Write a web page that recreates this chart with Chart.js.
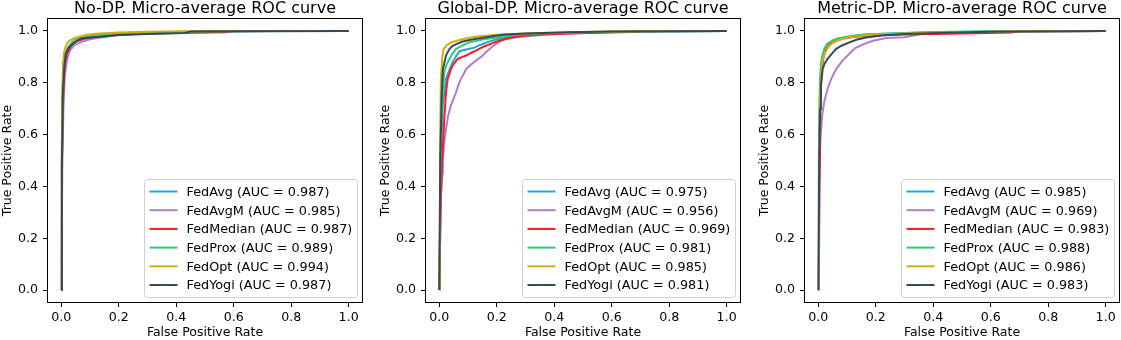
<!DOCTYPE html>
<html>
<head>
<meta charset="utf-8">
<script src="https://cdn.jsdelivr.net/npm/chart.js@4/dist/chart.umd.min.js"></script>
<style>
  body { margin: 0; background: #fff; overflow: hidden; }
  #wrap { position: relative; width: 1121px; height: 340px; }
  .panel { position: absolute; top: 0; height: 340px; }
</style>
</head>
<body>
<div id="wrap">
  <div class="panel" style="left:0px"><canvas id="rocNoDP" width="378" height="340"></canvas></div>
  <div class="panel" style="left:378px"><canvas id="rocGlobalDP" width="379" height="340"></canvas></div>
  <div class="panel" style="left:757px"><canvas id="rocMetricDP" width="364" height="340"></canvas></div>
</div>
<script>
// modelos e cores
const modelos = ['FedAvg', 'FedAvgM', 'FedMedian', 'FedProx', 'FedOpt', 'FedYogi']
const cores = ['#1aa7e6', '#b07ccf', '#ff1a1a', '#2ecc71', '#d4ac0d', '#34495e']
const titulos = ['No-DP. Micro-average ROC curve', 'Global-DP. Micro-average ROC curve', 'Metric-DP. Micro-average ROC curve']
const ticksValores = [0, 0.2, 0.4, 0.6, 0.8, 1.0]

// AUC por painel
const aucNoDP = [0.987, 0.985, 0.987, 0.989, 0.994, 0.987]
const aucGlobalDP = [0.975, 0.956, 0.969, 0.981, 0.985, 0.981]
const aucMetricDP = [0.985, 0.969, 0.983, 0.988, 0.986, 0.983]

// curvas ROC [fpr, tpr] - No-DP
const noDpFedAvg = [[0,0],[0.002,0.5],[0.005,0.78],[0.01,0.88],[0.02,0.925],[0.035,0.948],[0.055,0.962],[0.08,0.972],[0.12,0.98],[0.18,0.987],[0.28,0.992],[0.4,0.995],[0.55,0.998],[0.7,1],[1,1]]
const noDpFedAvgM = [[0,0],[0.003,0.45],[0.007,0.7],[0.012,0.83],[0.02,0.89],[0.03,0.925],[0.045,0.945],[0.07,0.958],[0.1,0.968],[0.14,0.976],[0.2,0.984],[0.3,0.99],[0.45,0.994],[0.6,0.998],[0.75,1],[1,1]]
const noDpFedMedian = [[0,0],[0.002,0.5],[0.006,0.75],[0.012,0.87],[0.02,0.915],[0.035,0.945],[0.05,0.96],[0.08,0.97],[0.12,0.978],[0.18,0.985],[0.3,0.99],[0.45,0.993],[0.57,0.995],[0.6,1],[1,1]]
const noDpFedProx = [[0,0],[0.002,0.55],[0.005,0.8],[0.01,0.89],[0.02,0.93],[0.035,0.955],[0.05,0.968],[0.08,0.976],[0.12,0.983],[0.18,0.99],[0.3,0.994],[0.45,0.997],[0.6,0.999],[1,1]]
const noDpFedOpt = [[0,0],[0.001,0.45],[0.003,0.75],[0.006,0.88],[0.01,0.92],[0.015,0.94],[0.022,0.957],[0.03,0.964],[0.045,0.972],[0.065,0.979],[0.09,0.985],[0.13,0.99],[0.2,0.994],[0.3,0.997],[0.42,0.999],[0.6,1],[1,1]]
const noDpFedYogi = [[0,0],[0.002,0.5],[0.005,0.75],[0.01,0.86],[0.015,0.91],[0.025,0.935],[0.04,0.95],[0.06,0.965],[0.07,0.972],[0.1,0.975],[0.14,0.978],[0.2,0.984],[0.3,0.988],[0.43,0.992],[0.45,0.998],[0.6,0.999],[1,1]]

// Global-DP
const globalFedAvg = [[0,0],[0.005,0.5],[0.012,0.72],[0.023,0.815],[0.035,0.85],[0.046,0.879],[0.06,0.905],[0.07,0.922],[0.1,0.93],[0.12,0.935],[0.14,0.945],[0.17,0.958],[0.2,0.968],[0.24,0.976],[0.3,0.985],[0.45,0.992],[0.65,0.997],[1,1]]
const globalFedAvgM = [[0,0],[0.004,0.3],[0.006,0.39],[0.01,0.45],[0.012,0.5],[0.018,0.58],[0.023,0.62],[0.03,0.67],[0.04,0.712],[0.05,0.74],[0.058,0.763],[0.066,0.79],[0.075,0.815],[0.085,0.835],[0.093,0.853],[0.11,0.87],[0.127,0.885],[0.145,0.9],[0.162,0.918],[0.18,0.935],[0.197,0.95],[0.215,0.962],[0.23,0.969],[0.27,0.976],[0.3,0.98],[0.38,0.986],[0.45,0.99],[0.6,0.996],[0.8,0.999],[1,1]]
const globalFedMedian = [[0,0],[0.004,0.3],[0.01,0.5],[0.017,0.66],[0.023,0.76],[0.029,0.815],[0.038,0.845],[0.046,0.866],[0.055,0.88],[0.064,0.892],[0.08,0.9],[0.093,0.905],[0.11,0.915],[0.127,0.924],[0.145,0.935],[0.162,0.943],[0.185,0.953],[0.208,0.962],[0.24,0.972],[0.278,0.98],[0.35,0.986],[0.45,0.99],[0.55,0.993],[0.67,0.996],[0.7,1],[1,1]]
const globalFedProx = [[0,0],[0.004,0.5],[0.01,0.75],[0.017,0.84],[0.025,0.87],[0.035,0.892],[0.045,0.912],[0.058,0.93],[0.08,0.944],[0.104,0.956],[0.15,0.967],[0.197,0.975],[0.26,0.984],[0.35,0.99],[0.5,0.995],[0.7,0.998],[1,1]]
const globalFedOpt = [[0,0],[0.002,0.5],[0.005,0.8],[0.01,0.9],[0.015,0.93],[0.025,0.945],[0.04,0.955],[0.06,0.962],[0.08,0.968],[0.11,0.975],[0.14,0.98],[0.2,0.985],[0.3,0.99],[0.45,0.995],[0.6,0.998],[0.8,1],[1,1]]
const globalFedYogi = [[0,0],[0.003,0.5],[0.008,0.75],[0.012,0.85],[0.023,0.905],[0.035,0.93],[0.046,0.943],[0.065,0.952],[0.081,0.959],[0.11,0.966],[0.14,0.972],[0.18,0.979],[0.22,0.985],[0.3,0.99],[0.45,0.995],[0.6,0.998],[1,1]]

// Metric-DP
const metricFedAvg = [[0,0],[0.002,0.5],[0.005,0.75],[0.009,0.86],[0.015,0.9],[0.021,0.925],[0.03,0.945],[0.05,0.962],[0.07,0.97],[0.097,0.976],[0.13,0.982],[0.166,0.986],[0.25,0.99],[0.4,0.995],[0.6,0.998],[1,1]]
const metricFedAvgM = [[0,0],[0.002,0.35],[0.004,0.5],[0.008,0.6],[0.014,0.68],[0.021,0.73],[0.032,0.776],[0.045,0.815],[0.062,0.853],[0.08,0.88],[0.097,0.9],[0.115,0.92],[0.13,0.935],[0.16,0.95],[0.19,0.962],[0.237,0.973],[0.3,0.976],[0.36,0.988],[0.45,0.993],[0.6,0.997],[0.8,0.999],[1,1]]
const metricFedMedian = [[0,0],[0.002,0.1],[0.004,0.4],[0.007,0.7],[0.011,0.84],[0.018,0.9],[0.025,0.925],[0.04,0.948],[0.06,0.962],[0.09,0.972],[0.13,0.978],[0.2,0.983],[0.3,0.986],[0.45,0.989],[0.55,0.991],[0.67,0.994],[0.7,1],[1,1]]
const metricFedProx = [[0,0],[0.002,0.55],[0.005,0.78],[0.009,0.87],[0.015,0.91],[0.021,0.932],[0.03,0.95],[0.05,0.964],[0.07,0.972],[0.1,0.978],[0.14,0.984],[0.2,0.988],[0.3,0.992],[0.4,0.996],[0.6,0.999],[1,1]]
const metricFedOpt = [[0,0],[0.002,0.5],[0.006,0.75],[0.01,0.85],[0.016,0.89],[0.023,0.915],[0.035,0.94],[0.05,0.955],[0.075,0.966],[0.1,0.974],[0.14,0.98],[0.2,0.986],[0.3,0.99],[0.45,0.994],[0.65,0.998],[1,1]]
const metricFedYogi = [[0,0],[0.003,0.5],[0.006,0.7],[0.009,0.79],[0.015,0.853],[0.022,0.875],[0.032,0.892],[0.045,0.91],[0.061,0.93],[0.08,0.943],[0.108,0.956],[0.135,0.967],[0.166,0.975],[0.22,0.982],[0.3,0.988],[0.45,0.993],[0.6,0.997],[1,1]]

const curvasNoDP = [noDpFedAvg, noDpFedAvgM, noDpFedMedian, noDpFedProx, noDpFedOpt, noDpFedYogi]
const curvasGlobalDP = [globalFedAvg, globalFedAvgM, globalFedMedian, globalFedProx, globalFedOpt, globalFedYogi]
const curvasMetricDP = [metricFedAvg, metricFedAvgM, metricFedMedian, metricFedProx, metricFedOpt, metricFedYogi]

const fonte = 'DejaVu Sans'
Chart.defaults.font.family = fonte
Chart.defaults.color = '#000'

// moldura (spines) e legenda dentro do grafico
const molduraLegenda = {
    id: 'molduraLegenda',
    afterDatasetsDraw(chart) {
        const ctx = chart.ctx
        const a = chart.chartArea
        ctx.save()
        ctx.strokeStyle = '#000'
        ctx.lineWidth = 1
        ctx.strokeRect(Math.round(a.left) + 0.5, Math.round(a.top) + 0.5, Math.round(a.right - a.left) - 1, Math.round(a.bottom - a.top) - 1)

        ctx.font = '12.8px "' + fonte + '"'
        const w = 213
        const h = 118
        const x = Math.round(a.right - 6 - w) + 0.5
        const y = Math.round(a.bottom - 6 - h) + 0.5

        ctx.beginPath()
        ctx.roundRect(x, y, w, h, 3)
        ctx.fillStyle = 'rgba(255,255,255,0.8)'
        ctx.fill()
        ctx.strokeStyle = '#d0d0d0'
        ctx.stroke()

        chart.data.datasets.forEach((ds, i) => {
            const yy = y + 12 + i * 18.7
            ctx.beginPath()
            ctx.moveTo(x + 5, yy)
            ctx.lineTo(x + 33, yy)
            ctx.strokeStyle = ds.borderColor
            ctx.lineWidth = 2
            ctx.stroke()
            ctx.fillStyle = '#000'
            ctx.textBaseline = 'middle'
            ctx.textAlign = 'left'
            ctx.fillText(ds.label, x + 42, yy + 1)
        })
        ctx.restore()
    }
}

function eixo(titulo, ehX) {
    return {
        type: 'linear',
        min: -0.05,
        max: 1.05,
        afterBuildTicks: s => { s.ticks = ticksValores.map(v => ({ value: v })) },
        afterFit: s => {
            if (ehX) s.height = 37
            else s.width = 47
        },
        ticks: {
            autoSkip: false,
            maxRotation: 0,
            padding: ehX ? 3 : 5,
            color: '#000',
            font: { size: 12.6 },
            callback: v => Number(v).toFixed(1)
        },
        grid: {
            drawOnChartArea: false,
            drawTicks: true,
            tickLength: 4,
            tickWidth: 1,
            tickColor: '#000'
        },
        border: { display: false },
        title: {
            display: true,
            text: titulo,
            color: '#000',
            font: { size: 12.5 },
            padding: { top: 0, bottom: 0 }
        }
    }
}

function criarGraficoROC(canvasId, titulo, curvas, aucs, padDireita) {
    const datasets = curvas.map((curva, i) => ({
        label: `${modelos[i]} (AUC = ${aucs[i].toFixed(3)})`,
        data: curva.map(p => ({ x: p[0], y: p[1] })),
        borderColor: cores[i],
        backgroundColor: cores[i],
        borderWidth: 2,
        pointRadius: 0,
        showLine: true,
        tension: 0,
        order: curvas.length - i
    }))

    return new Chart(document.getElementById(canvasId), {
        type: 'scatter',
        data: { datasets: datasets },
        options: {
            responsive: false,
            animation: false,
            devicePixelRatio: 1,
            layout: { padding: { top: 0, left: 0, bottom: 0, right: padDireita } },
            plugins: {
                legend: { display: false },
                tooltip: { enabled: false },
                title: {
                    display: true,
                    text: titulo,
                    fullSize: false,
                    color: '#000',
                    font: { size: 16, weight: 'normal', lineHeight: 1.0 },
                    padding: { top: 1, bottom: 1 }
                }
            },
            scales: {
                x: eixo('False Positive Rate', true),
                y: eixo('True Positive Rate', false)
            }
        },
        plugins: [molduraLegenda]
    })
}

criarGraficoROC('rocNoDP', titulos[0], curvasNoDP, aucNoDP, 15)
criarGraficoROC('rocGlobalDP', titulos[1], curvasGlobalDP, aucGlobalDP, 16)
criarGraficoROC('rocMetricDP', titulos[2], curvasMetricDP, aucMetricDP, 1)
</script>
</body>
</html>
